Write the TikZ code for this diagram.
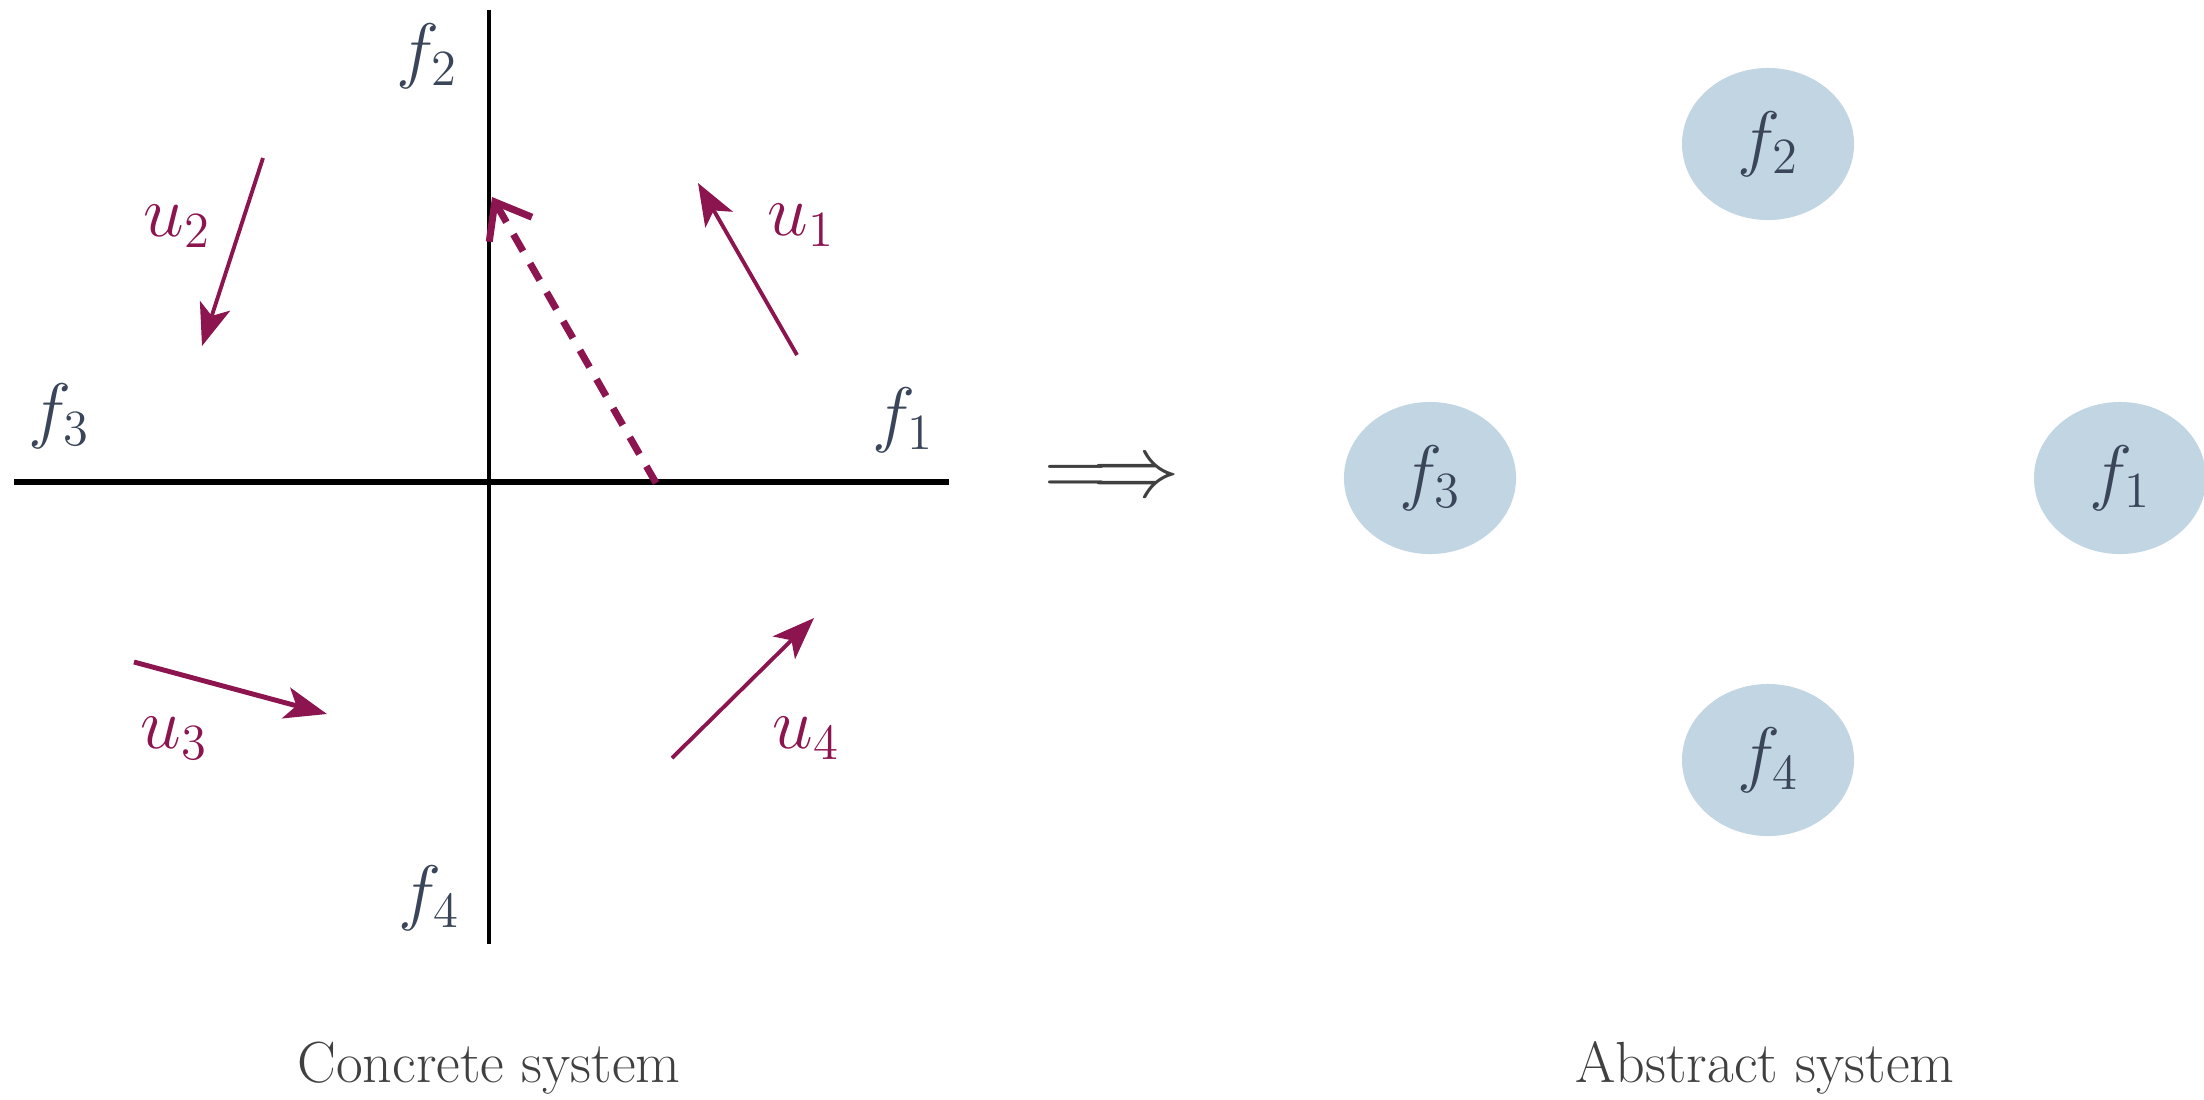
\documentclass[tikz,border=0pt]{standalone}
\usetikzlibrary{arrows.meta,shapes.geometric}
\definecolor{lab}{HTML}{3A4559}
\definecolor{uc}{HTML}{8C1550}
\definecolor{cfill}{HTML}{C2D5E3}
\definecolor{cap}{HTML}{404040}
\begin{document}
\begin{tikzpicture}[x=0.01cm,y=-0.01cm,
  flab/.style={text=lab,font=\fontsize{20}{24}\selectfont,inner sep=0pt},
  ulab/.style={text=uc,font=\fontsize{20}{24}\selectfont,inner sep=0pt},
  uarrow/.style={draw=uc,line width=1.1pt,-{Stealth[length=12pt,width=9pt,inset=3pt]}},
  axis/.style={draw=black,line width=1.3pt},
  circ/.style={ellipse,fill=cfill,minimum width=1.72cm,minimum height=1.52cm,inner sep=0pt,text=lab,font=\fontsize{20}{24}\selectfont},
  captxt/.style={text=cap,font=\fontsize{16.5}{19}\selectfont,inner sep=0pt}]
\useasboundingbox (0,0) rectangle (2204,1099);
% axes
\coordinate (hl) at (14,482);
\coordinate (hr) at (949,482);
\coordinate (vt) at (489,10);
\coordinate (vb) at (489,944);
\draw[axis,line width=1.9pt] (hl) -- (hr);
\draw[axis] (vt) -- (vb);
% axis labels
\node[flab] (lf2) at (427,56) {$f_2$};
\node[flab] (lf3) at (59,416) {$f_3$};
\node[flab] (lf1) at (903,420) {$f_1$};
\node[flab] (lf4) at (429,898) {$f_4$};
% vectors
\coordinate (u1s) at (797,355);
\coordinate (u1e) at (698,183);
\coordinate (u2s) at (263,158);
\coordinate (u2e) at (202,346);
\coordinate (u3s) at (134,662);
\coordinate (u3e) at (327,714);
\coordinate (u4s) at (672,758);
\coordinate (u4e) at (814,618);
\draw[uarrow] (u1s) -- (u1e);
\draw[uarrow] (u2s) -- (u2e);
\draw[uarrow,line width=1.4pt] (u3s) -- (u3e);
\draw[uarrow] (u4s) -- (u4e);
\node[ulab] (lu1) at (801,225) {$u_1$};
\node[ulab] (lu2) at (177,226) {$u_2$};
\node[ulab] (lu3) at (174,738) {$u_3$};
\node[ulab] (lu4) at (806,738) {$u_4$};
% dashed resultant
\coordinate (ds) at (656,483);
\coordinate (de) at (492,197);
\draw[draw=uc,line width=2pt,dash pattern=on 5.5pt off 4pt,-{Straight Barb[length=9pt,width=14pt,line width=2pt]}] (ds) -- (de);
% implication arrow
\node[text=cap,font=\fontsize{23}{26}\selectfont,inner sep=0pt] (imp) at (1112,480) {$\Longrightarrow$};
% abstract nodes
\node[circ] (c2) at (1768,144) {$f_2$};
\node[circ] (c3) at (1430,478) {$f_3$};
\node[circ] (c1) at (2120,478) {$f_1$};
\node[circ] (c4) at (1768,760) {$f_4$};
% captions
\node[captxt] (cc) at (489,1068) {Concrete system};
\node[captxt] (ca) at (1765,1068) {Abstract system};
\end{tikzpicture}
\end{document}
